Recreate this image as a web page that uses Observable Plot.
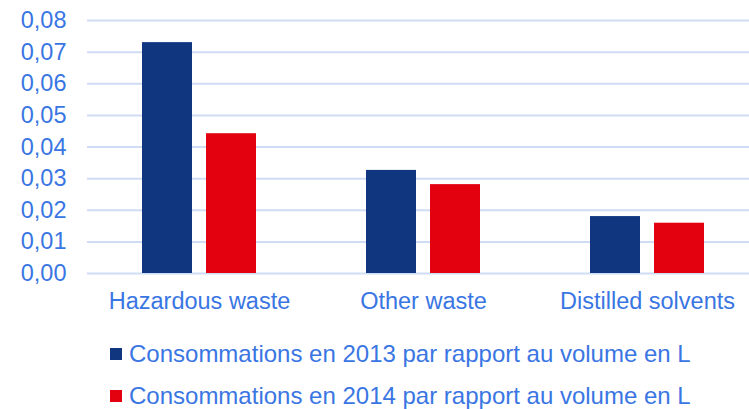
<!DOCTYPE html>
<html>
<head>
<meta charset="utf-8">
<script src="https://cdn.jsdelivr.net/npm/d3@7"></script>
<script src="https://cdn.jsdelivr.net/npm/@observablehq/plot@0.6"></script>
<style>
  html, body { margin: 0; padding: 0; background: #fff; overflow: hidden; }
  #wrap { position: relative; width: 749px; height: 409px; font-family: "Liberation Sans", Arial, sans-serif; }
  #legend { position: absolute; left: 110px; top: 333px; color: #3a76e3; font-size: 24px; }
  .row { display: flex; align-items: center; height: 42px; white-space: nowrap; }
  .sw { width: 12px; height: 12px; margin-right: 7px; flex: none; }
</style>
</head>
<body>
<div id="wrap"><div id="chart"></div><div id="legend"></div></div>
<script>
const categories = ["Hazardous waste", "Other waste", "Distilled solvents"];
const series = ["Consommations en 2013 par rapport au volume en L", "Consommations en 2014 par rapport au volume en L"];
const values2013 = [0.0730, 0.0326, 0.0180];
const values2014 = [0.0442, 0.0281, 0.0159];
const yTicks = [0, 0.01, 0.02, 0.03, 0.04, 0.05, 0.06, 0.07, 0.08];
const colors = ["#10367f", "#e3000f"];

const textColor = "#3a76e3";
const gridColor = "#cfdcf3";

const rows = [];
categories.forEach((c, i) => {
  rows.push({category: c, series: series[0], value: values2013[i]});
  rows.push({category: c, series: series[1], value: values2014[i]});
});

const fmt = d => d3.format(".2f")(d).replace(".", ",");

const chart = Plot.plot({
  width: 749,
  height: 325,
  marginLeft: 87,
  marginRight: -10,
  marginTop: 20,
  marginBottom: 52,
  style: {fontFamily: "Liberation Sans, Arial, sans-serif", fontSize: "23.5px", color: textColor, background: "white", overflow: "hidden"},
  fx: {domain: categories, padding: 0, label: null, axis: null},
  x: {domain: series, paddingInner: 0.217, paddingOuter: 0.845, axis: null},
  y: {domain: [0, 0.08], axis: null},
  color: {domain: series, range: colors},
  marks: [
    Plot.ruleY(yTicks, {stroke: gridColor, strokeWidth: 2}),
    Plot.barY(rows, {fx: "category", x: "series", y: "value", fill: "series"}),
    Plot.axisFx({anchor: "bottom", tickSize: 0, tickPadding: 19, label: null, fontSize: 23.5, fill: textColor}),
    Plot.axisY({anchor: "left", ticks: yTicks, tickSize: 0, tickPadding: 21, tickFormat: fmt, label: null, fontSize: 23.5, fill: textColor, facetAnchor: "left"})
  ]
});
document.getElementById("chart").appendChild(chart);

const legend = document.getElementById("legend");
series.forEach((s, i) => {
  const r = document.createElement("div");
  r.className = "row";
  const sw = document.createElement("span");
  sw.className = "sw";
  sw.style.background = colors[i];
  const t = document.createElement("span");
  t.textContent = s;
  r.appendChild(sw); r.appendChild(t);
  legend.appendChild(r);
});
</script>
</body>
</html>
